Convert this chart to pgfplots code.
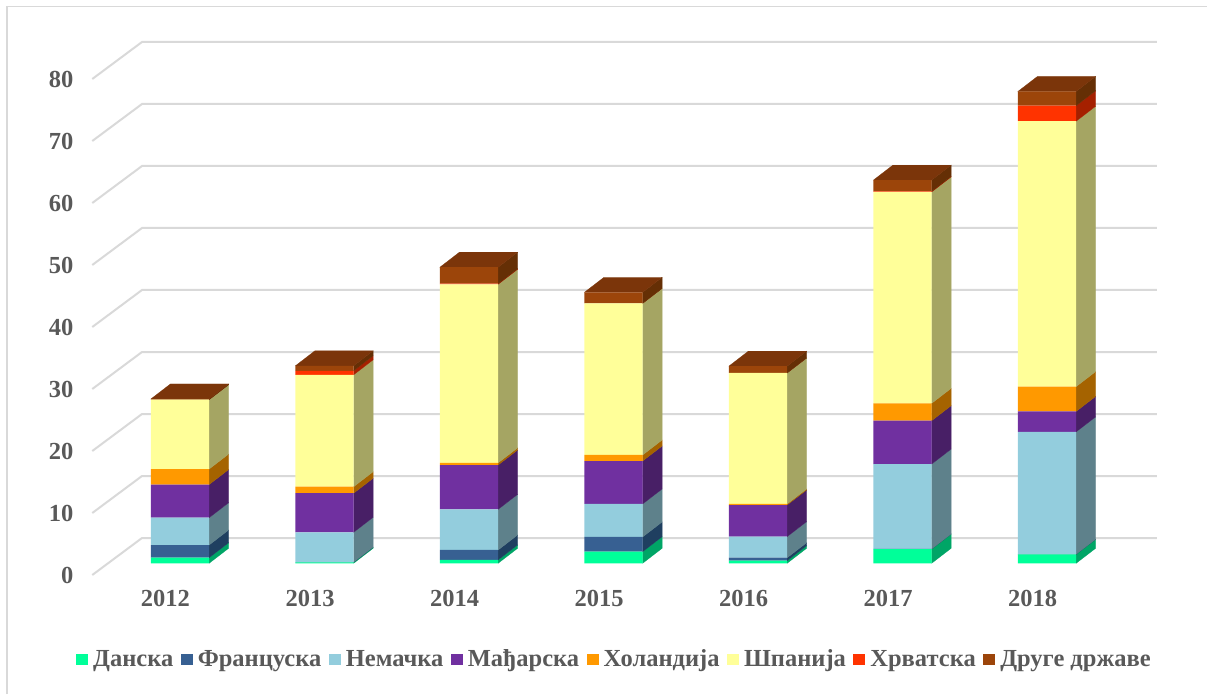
\documentclass[border=0pt]{standalone}
\usepackage{fontspec}
\setmainfont{Liberation Serif}
\usepackage{pgfplots}
\usepackage{pgfplotstable}
\pgfplotsset{compat=1.18}
\definecolor{txt}{HTML}{595959}
\definecolor{gridc}{HTML}{D9D9D9}
\definecolor{da}{HTML}{00FF99}\definecolor{sda}{HTML}{00A566}
\definecolor{fr}{HTML}{376092}\definecolor{sfr}{HTML}{1F3F60}
\definecolor{ne}{HTML}{93CDDD}\definecolor{sne}{HTML}{5E818B}
\definecolor{ma}{HTML}{7030A0}\definecolor{sma}{HTML}{481F66}
\definecolor{ho}{HTML}{FF9900}\definecolor{sho}{HTML}{A56300}
\definecolor{sp}{HTML}{FFFF99}\definecolor{ssp}{HTML}{A5A563}
\definecolor{hr}{HTML}{FF3300}\definecolor{shr}{HTML}{A52000}
\definecolor{dr}{HTML}{9C450A}\definecolor{sdr}{HTML}{652F05}
\definecolor{tp}{HTML}{7B350A}
\pgfplotstableread{
x da fr ne ma ho sp hr dr
0 0.90 2.05 4.40 5.35 2.50 11.20 0.00 0.10
1 0.15 0.05 4.80 6.30 1.05 18.05 0.65 0.80
2 0.55 1.60 6.55 7.15 0.35 28.80 0.10 2.65
3 1.87 2.38 5.32 6.93 0.97 24.46 0.00 1.77
4 0.42 0.48 3.40 5.10 0.17 21.13 0.00 1.10
5 2.30 0.02 13.68 7.00 2.80 34.10 0.10 1.80
6 1.45 0.02 19.73 3.30 4.00 42.80 2.50 2.30
}\datatable
\pgfplotsset{base/.style={
  scale only axis, width=1064.7pt, height=533pt,
  xmin=-0.6069, xmax=6.761, ymin=-1.887, ymax=84.08,
  clip=false,
}}
\begin{document}
\begin{tikzpicture}
\path[use as bounding box] (-92.3pt,-119pt) rectangle (1114.7pt,575pt);
\draw[gridc,line width=1.5pt] (-85.3pt,-119pt) -- (-85.3pt,568.7pt) -- (1114.7pt,568.7pt);
\begin{axis}[base,
  axis line style={draw=none}, tick style={draw=none},
  xtick={0,...,6}, xticklabels={2012,2013,2014,2015,2016,2017,2018},
  ytick={0,10,...,80},
  /pgf/number format/assume math mode=true,
  tick label style={font=\fontsize{24.5}{24.5}\selectfont\bfseries, text=txt},
  yticklabel style={xshift=-15.5pt, yshift=-12.5pt},
  xticklabel style={xshift=-14.5pt, yshift=-12pt},
]
\pgfplotsforeachungrouped \v in {0,10,...,80}{
  \pgfmathsetmacro\ya{\v-1.887}
  \pgfmathsetmacro\yb{\v+4.08}
  \edef\temp{\noexpand\addplot[gridc,line width=2pt,forget plot] coordinates {(-0.6069,\ya)(-0.263,\yb)(6.761,\yb)};}\temp
}
\def\dx{0.135}
\def\dy{2.42}
\pgfplotsforeachungrouped \r in {0,...,6}{
  \pgfmathsetmacro\xr{\r+0.2017}
  \pgfmathsetmacro\xl{\r-0.2017}
  \pgfmathsetmacro\xb{\xr+\dx}
  \pgfmathsetmacro\xc{\xl+\dx}
  \def\cum{0}
  \pgfplotsforeachungrouped \s in {da,fr,ne,ma,ho,sp,hr,dr}{
    \pgfplotstablegetelem{\r}{\s}\of\datatable
    \pgfmathsetmacro\nxt{\cum+\pgfplotsretval}
    \pgfmathsetmacro\ya{\cum+\dy}
    \pgfmathsetmacro\yb{\nxt+\dy}
    \edef\temp{\noexpand\addplot[fill=s\s,draw=s\s,line width=0.2pt,forget plot] coordinates {(\xr,\cum)(\xb,\ya)(\xb,\yb)(\xr,\nxt)} --cycle;}\temp
    \let\cum\nxt
  }
  \pgfmathsetmacro\yb{\cum+\dy}
  \edef\temp{\noexpand\addplot[fill=tp,draw=tp,line width=0.2pt,forget plot] coordinates {(\xl,\cum)(\xr,\cum)(\xb,\yb)(\xc,\yb)} --cycle;}\temp
}
\end{axis}
\begin{axis}[base, hide axis, ybar stacked, bar width=58.3pt, bar shift=0pt,
  legend columns=8,
  legend style={draw=none, fill=none, at={(-0.0153,-0.1576)}, anchor=west, inner sep=0pt,
    font=\fontsize{24.5}{24.5}\selectfont\bfseries, text=txt,
    /tikz/every odd column/.style={column sep=3pt},
    /tikz/every even column/.style={column sep=5.5pt}},
  legend image code/.code={\fill[#1] (0pt,-5.5pt) rectangle (12pt,5.5pt);},
]
\addplot[fill=da,draw=none] table[x=x,y=da]{\datatable};
\addplot[fill=fr,draw=none] table[x=x,y=fr]{\datatable};
\addplot[fill=ne,draw=none] table[x=x,y=ne]{\datatable};
\addplot[fill=ma,draw=none] table[x=x,y=ma]{\datatable};
\addplot[fill=ho,draw=none] table[x=x,y=ho]{\datatable};
\addplot[fill=sp,draw=none] table[x=x,y=sp]{\datatable};
\addplot[fill=hr,draw=none] table[x=x,y=hr]{\datatable};
\addplot[fill=dr,draw=none] table[x=x,y=dr]{\datatable};
\legend{Данска,Француска,Немачка,Мађарска,Холандија,Шпанија,Хрватска,Друге државе}
\end{axis}
\end{tikzpicture}
\end{document}
